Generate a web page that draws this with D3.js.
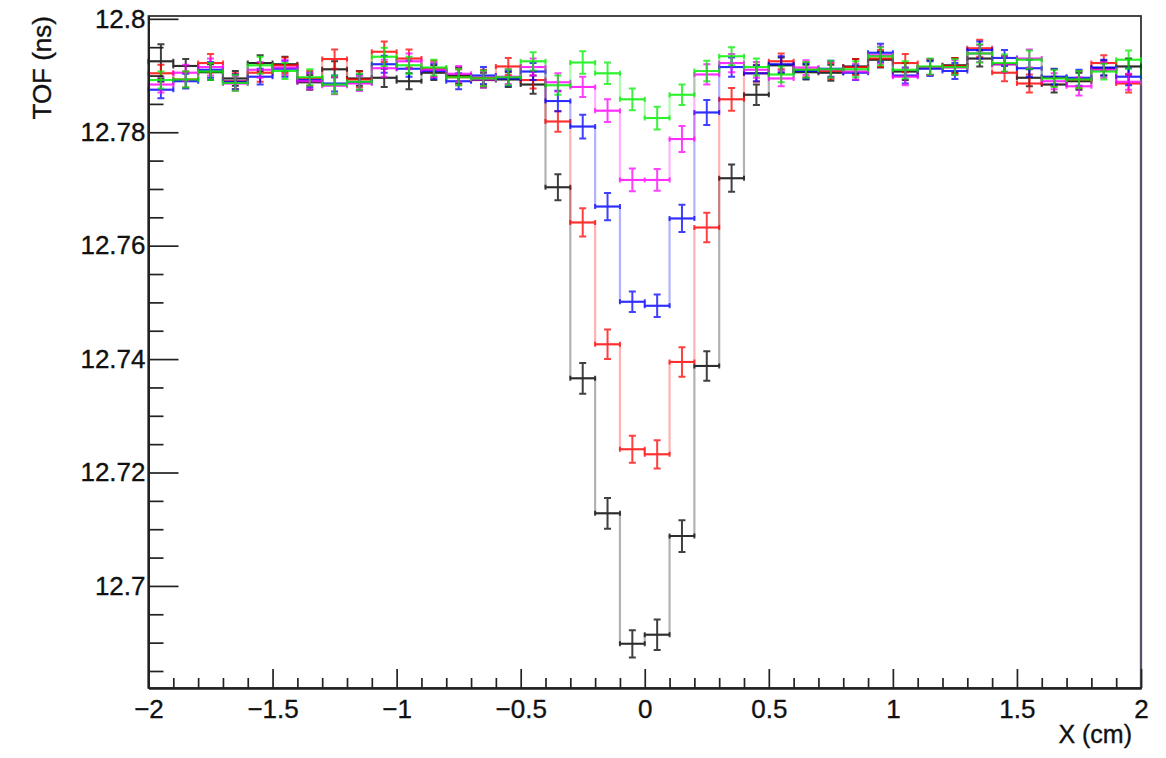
<!DOCTYPE html>
<html>
<head>
<meta charset="utf-8">
<script src="https://cdn.jsdelivr.net/npm/d3@7"></script>
<style>
  body { margin: 0; background: #fff; }
  svg text { font-family: "Liberation Sans", Arial, Helvetica, sans-serif; fill: #111; stroke: #111; stroke-width: 0.35px; }
</style>
</head>
<body>
<div id="chart"></div>
<script>
// Bin centres (X, cm), 40 bins of 0.1 from -2 to 2
const binCenters = [-1.95,-1.85,-1.75,-1.65,-1.55,-1.45,-1.35,-1.25,-1.15,-1.05,
                    -0.95,-0.85,-0.75,-0.65,-0.55,-0.45,-0.35,-0.25,-0.15,-0.05,
                     0.05, 0.15, 0.25, 0.35, 0.45, 0.55, 0.65, 0.75, 0.85, 0.95,
                     1.05, 1.15, 1.25, 1.35, 1.45, 1.55, 1.65, 1.75, 1.85, 1.95];

// TOF (ns) per bin, one array per histogram
const tofBlack = [12.7925,12.7917,12.7906,12.7895,12.7922,12.7920,12.7888,12.7911,12.7895,12.7896,
                  12.7890,12.7905,12.7900,12.7892,12.7893,12.7884,12.7703,12.7366,12.7128,12.6898,
                  12.6914,12.7088,12.7388,12.7719,12.7866,12.7918,12.7906,12.7905,12.7916,12.7928,
                  12.7907,12.7914,12.7918,12.7930,12.7920,12.7896,12.7884,12.7890,12.7913,12.7916];
const errBlack = [0.0030,0.0012,0.0014,0.0013,0.0014,0.0013,0.0013,0.0014,0.0013,0.0016,
                  0.0014,0.0013,0.0014,0.0013,0.0013,0.0016,0.0023,0.0027,0.0027,0.0024,
                  0.0027,0.0028,0.0026,0.0024,0.0018,0.0014,0.0013,0.0014,0.0013,0.0014,
                  0.0015,0.0013,0.0013,0.0014,0.0014,0.0015,0.0014,0.0015,0.0013,0.0014];

const tofRed = [12.7904,12.7893,12.7922,12.7890,12.7905,12.7918,12.7895,12.7929,12.7893,12.7942,
                12.7930,12.7912,12.7897,12.7896,12.7916,12.7892,12.7819,12.7641,12.7426,12.7241,
                12.7232,12.7395,12.7632,12.7858,12.7904,12.7925,12.7910,12.7908,12.7915,12.7930,
                12.7922,12.7915,12.7917,12.7948,12.7905,12.7886,12.7896,12.7893,12.7922,12.7886];
const errRed = [0.0015,0.0014,0.0016,0.0014,0.0016,0.0014,0.0013,0.0017,0.0014,0.0018,
                0.0016,0.0014,0.0014,0.0014,0.0015,0.0015,0.0018,0.0025,0.0026,0.0024,
                0.0025,0.0026,0.0026,0.0020,0.0015,0.0014,0.0013,0.0014,0.0014,0.0015,
                0.0016,0.0014,0.0014,0.0015,0.0015,0.0016,0.0015,0.0015,0.0014,0.0016];

const tofBlue = [12.7875,12.7890,12.7910,12.7889,12.7898,12.7912,12.7892,12.7886,12.7888,12.7920,
                 12.7912,12.7908,12.7890,12.7900,12.7895,12.7907,12.7855,12.7810,12.7669,12.7501,
                 12.7494,12.7648,12.7835,12.7915,12.7904,12.7920,12.7908,12.7912,12.7905,12.7940,
                 12.7900,12.7912,12.7908,12.7945,12.7931,12.7913,12.7898,12.7896,12.7914,12.7898];
const errBlue = [0.0015,0.0013,0.0014,0.0013,0.0014,0.0014,0.0013,0.0014,0.0014,0.0015,
                 0.0014,0.0013,0.0014,0.0015,0.0013,0.0015,0.0018,0.0021,0.0024,0.0018,
                 0.0020,0.0024,0.0022,0.0017,0.0014,0.0014,0.0013,0.0014,0.0013,0.0016,
                 0.0014,0.0013,0.0014,0.0015,0.0014,0.0015,0.0014,0.0014,0.0014,0.0015];

const tofMagenta = [12.7884,12.7905,12.7915,12.7886,12.7910,12.7914,12.7890,12.7882,12.7886,12.7913,
                    12.7925,12.7910,12.7903,12.7893,12.7898,12.7915,12.7888,12.7880,12.7838,12.7716,
                    12.7716,12.7788,12.7902,12.7922,12.7910,12.7895,12.7914,12.7910,12.7907,12.7936,
                    12.7898,12.7915,12.7914,12.7939,12.7920,12.7930,12.7890,12.7881,12.7910,12.7889];
const errMagenta = [0.0014,0.0014,0.0015,0.0013,0.0014,0.0013,0.0014,0.0015,0.0013,0.0015,
                    0.0014,0.0013,0.0014,0.0014,0.0013,0.0015,0.0016,0.0018,0.0020,0.0020,
                    0.0019,0.0023,0.0018,0.0016,0.0014,0.0014,0.0013,0.0014,0.0014,0.0015,
                    0.0015,0.0014,0.0013,0.0015,0.0014,0.0016,0.0014,0.0016,0.0014,0.0014];

const tofGreen = [12.7892,12.7893,12.7907,12.7887,12.7918,12.7908,12.7897,12.7884,12.7889,12.7933,
                  12.7918,12.7914,12.7897,12.7895,12.7897,12.7925,12.7883,12.7923,12.7904,12.7858,
                  12.7825,12.7866,12.7908,12.7934,12.7915,12.7902,12.7910,12.7911,12.7911,12.7934,
                  12.7910,12.7916,12.7915,12.7939,12.7922,12.7928,12.7895,12.7893,12.7907,12.7928];
const errGreen = [0.0015,0.0014,0.0015,0.0014,0.0015,0.0014,0.0014,0.0016,0.0014,0.0016,
                  0.0015,0.0014,0.0014,0.0014,0.0014,0.0016,0.0017,0.0020,0.0019,0.0019,
                  0.0020,0.0018,0.0018,0.0016,0.0015,0.0014,0.0014,0.0015,0.0014,0.0016,
                  0.0015,0.0014,0.0014,0.0016,0.0015,0.0016,0.0015,0.0015,0.0014,0.0016];

// Axis ticks and labels
const xMajorTicks = [-2, -1.5, -1, -0.5, 0, 0.5, 1, 1.5, 2];
const xTickLabels = ["\u22122", "\u22121.5", "\u22121", "\u22120.5", "0", "0.5", "1", "1.5", "2"];
const xMinorTicks = [-1.9,-1.8,-1.7,-1.6,-1.4,-1.3,-1.2,-1.1,-0.9,-0.8,-0.7,-0.6,-0.4,-0.3,-0.2,-0.1,
                     0.1,0.2,0.3,0.4,0.6,0.7,0.8,0.9,1.1,1.2,1.3,1.4,1.6,1.7,1.8,1.9];
const yMajorTicks = [12.7, 12.72, 12.74, 12.76, 12.78, 12.8];
const yTickLabels = ["12.7", "12.72", "12.74", "12.76", "12.78", "12.8"];
const yMinorTicks = [12.685,12.69,12.695,12.705,12.71,12.715,12.725,12.73,12.735,
                     12.745,12.75,12.755,12.765,12.77,12.775,12.785,12.79,12.795];

const series = [
  {name: "black",   color: "#000000", values: tofBlack,   errors: errBlack},
  {name: "red",     color: "#ff0000", values: tofRed,     errors: errRed},
  {name: "blue",    color: "#0000ff", values: tofBlue,    errors: errBlue},
  {name: "magenta", color: "#ff00ff", values: tofMagenta, errors: errMagenta},
  {name: "green",   color: "#00ee00", values: tofGreen,   errors: errGreen}
];

// 1. Dimensions
const margin = {top: 16, right: 25, bottom: 70, left: 148.5},
      width = 1166 - margin.left - margin.right,
      height = 758 - margin.top - margin.bottom;

const root = d3.select("#chart")
  .append("svg")
    .attr("width", 1166)
    .attr("height", 758);

const svg = root.append("g")
    .attr("transform", `translate(${margin.left},${margin.top})`);

// 2. Scales
const binWidth = binCenters[1] - binCenters[0];
const x = d3.scaleLinear().domain([-2, 2]).range([0, width]);
const y = d3.scaleLinear().domain([12.6820, 12.8005]).range([height, 0]);

// Frame (right/top edges end up under the histograms, like ROOT)
svg.append("rect")
    .attr("width", width)
    .attr("height", height)
    .attr("fill", "none")
    .attr("stroke", "#333")
    .attr("stroke-width", 1.8);

// 3. Histograms with error bars
series.forEach(s => {
  const g = svg.append("g").attr("class", "hist-" + s.name);

  // step outline, dropping to the frame bottom at both ends
  const step = d3.path();
  step.moveTo(x(binCenters[0] - binWidth / 2), height);
  s.values.forEach((v, i) => {
    step.lineTo(x(binCenters[i] - binWidth / 2), y(v));
    step.lineTo(x(binCenters[i] + binWidth / 2), y(v));
  });
  step.lineTo(x(binCenters[binCenters.length - 1] + binWidth / 2), height);

  g.append("path")
      .attr("d", step.toString())
      .attr("fill", "none")
      .attr("stroke", s.color)
      .attr("stroke-opacity", 0.3)
      .attr("stroke-width", 2.2);

  // error crosses with end caps
  const eb = d3.path();
  s.values.forEach((v, i) => {
    const xc = x(binCenters[i]),
          x0 = x(binCenters[i] - binWidth / 2),
          x1 = x(binCenters[i] + binWidth / 2),
          yc = y(v),
          yHi = y(v + s.errors[i]),
          yLo = y(v - s.errors[i]);
    eb.moveTo(x0, yc); eb.lineTo(x1, yc);
    eb.moveTo(x0, yc - 2.5); eb.lineTo(x0, yc + 2.5);
    eb.moveTo(x1, yc - 2.5); eb.lineTo(x1, yc + 2.5);
    eb.moveTo(xc, yHi); eb.lineTo(xc, yLo);
    eb.moveTo(xc - 3.5, yHi); eb.lineTo(xc + 3.5, yHi);
    eb.moveTo(xc - 3.5, yLo); eb.lineTo(xc + 3.5, yLo);
  });

  g.append("path")
      .attr("d", eb.toString())
      .attr("fill", "none")
      .attr("stroke", s.color)
      .attr("stroke-opacity", 0.75)
      .attr("stroke-width", 2);
});

// 4. Axes (ticks pointing inward)
function styleAxis(sel) {
  sel.selectAll("path.domain").attr("stroke", "#222").attr("stroke-width", 1.8);
  sel.selectAll(".tick line").attr("stroke", "#222").attr("stroke-width", 1.7);
  sel.selectAll(".tick text").style("font-size", "26px").attr("fill", "#111");
}

svg.append("g")
    .call(d3.axisLeft(y).tickValues(yMinorTicks).tickSize(-15).tickSizeOuter(0).tickFormat(""))
    .call(styleAxis);

svg.append("g")
    .call(d3.axisLeft(y).tickValues(yMajorTicks).tickSize(-30).tickSizeOuter(0).tickPadding(3)
      .tickFormat((d, i) => yTickLabels[i]))
    .call(styleAxis);

svg.append("g")
    .attr("transform", `translate(0,${height})`)
    .call(d3.axisBottom(x).tickValues(xMinorTicks).tickSize(-10).tickSizeOuter(0).tickFormat(""))
    .call(styleAxis);

svg.append("g")
    .attr("transform", `translate(0,${height})`)
    .call(d3.axisBottom(x).tickValues(xMajorTicks).tickSize(-19).tickSizeOuter(0).tickPadding(12)
      .tickFormat((d, i) => xTickLabels[i]))
    .call(styleAxis);

// Axis titles
root.append("text")
    .attr("transform", "translate(51,16) rotate(-90)")
    .style("text-anchor", "end")
    .style("font-size", "26px")
    .text("TOF (ns)");

root.append("text")
    .attr("x", margin.left + width - 9)
    .attr("y", 743)
    .style("text-anchor", "end")
    .style("font-size", "25px")
    .text("X (cm)");
</script>
</body>
</html>
